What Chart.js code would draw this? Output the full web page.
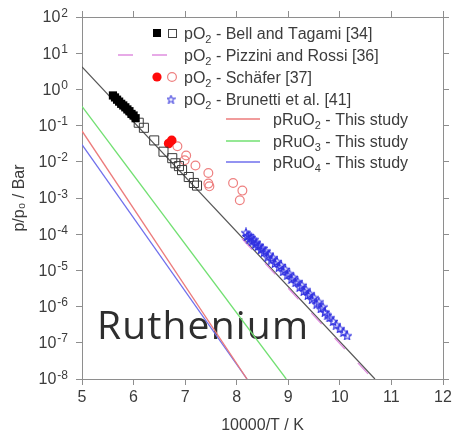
<!DOCTYPE html>
<html>
<head>
<meta charset="utf-8">
<script src="https://cdn.jsdelivr.net/npm/chart.js@4.4.1/dist/chart.umd.min.js"></script>
<style>
  html, body { margin: 0; padding: 0; background: #fff; }
  #wrap { width: 455px; height: 436px; position: relative; }
</style>
</head>
<body>
<div id="wrap"><canvas id="chart"></canvas></div>
<script>
// values (x = 10000/T, y = p/p0 in bar)

const seriesLabels = [
  'pO₂ - Bell and Tagami [34]',
  'pO₂ - Pizzini and Rossi [36]',
  'pO₂ - Schäfer [37]',
  'pO₂ - Brunetti et al. [41]',
  'pRuO₂ - This study',
  'pRuO₃ - This study',
  'pRuO₄ - This study'
];

const yTicks = [1e-8, 1e-7, 1e-6, 1e-5, 1e-4, 1e-3, 1e-2, 1e-1, 1e0, 1e1, 1e2];
const xTicks = [5, 6, 7, 8, 9, 10, 11, 12];

// Bell and Tagami, filled squares
const bellFillX = [5.60, 5.64, 5.68, 5.72, 5.76, 5.80, 5.84, 5.88, 5.92, 5.96, 6.00, 6.04];
const bellFillY = [0.68, 0.60, 0.52, 0.46, 0.40, 0.36, 0.32, 0.28, 0.25, 0.21, 0.19, 0.16];
// Bell and Tagami, open squares
const bellOpenX = [6.10, 6.20, 6.40, 6.58, 6.75, 6.81, 6.88, 6.94, 7.07, 7.17, 7.23];
const bellOpenY = [0.12, 8.7e-2, 3.9e-2, 1.9e-2, 1.26e-2, 9.1e-3, 7.6e-3, 5.9e-3, 3.8e-3, 2.6e-3, 2.2e-3];

// Schafer, filled and open circles
const schaferFillX = [6.68, 6.74];
const schaferFillY = [3.2e-2, 3.9e-2];
const schaferOpenX = [6.85, 7.02, 6.99, 7.20, 7.45, 7.45, 7.47, 7.93, 8.11, 8.06];
const schaferOpenY = [2.7e-2, 1.5e-2, 1.1e-2, 7.9e-3, 4.9e-3, 2.5e-3, 2.1e-3, 2.6e-3, 1.6e-3, 8.7e-4];

// Brunetti et al., stars
const brunettiX = [8.18, 8.20, 8.23, 8.25, 8.28, 8.30, 8.33, 8.36, 8.38, 8.41, 8.44, 8.47, 8.50,
  8.53, 8.56, 8.60, 8.63, 8.67, 8.70, 8.74, 8.78, 8.82, 8.86, 8.90, 8.94, 8.98, 9.02, 9.06,
  9.10, 9.14, 9.18, 9.22, 9.26, 9.30, 9.34, 9.38, 9.42, 9.46, 9.50, 9.55, 9.59, 9.63, 9.67,
  9.71, 9.76, 9.80, 9.87, 9.93, 10.00, 10.07, 10.14];
const brunettiY = [1.12e-4, 8.9e-5, 9.5e-5, 7.6e-5, 8.3e-5, 6.3e-5, 7.2e-5, 5.4e-5, 6.0e-5, 4.7e-5,
  5.0e-5, 3.8e-5, 4.2e-5, 3.2e-5, 3.5e-5, 2.4e-5, 2.8e-5, 2.0e-5, 2.3e-5, 1.6e-5, 1.8e-5,
  1.26e-5, 1.41e-5, 9.5e-6, 1.10e-5, 7.6e-6, 8.3e-6, 5.8e-6, 6.6e-6, 4.7e-6, 5.0e-6, 3.5e-6,
  4.0e-6, 2.7e-6, 3.0e-6, 2.1e-6, 2.3e-6, 1.6e-6, 1.8e-6, 1.2e-6, 1.38e-6, 8.9e-7, 1.0e-6,
  7.2e-7, 6.0e-7, 5.0e-7, 4.0e-7, 3.2e-7, 2.5e-7, 2.0e-7, 1.6e-7];

// lines
const pizziniX = [8.10, 10.64];
const pizziniY = [7.6e-5, 1e-8];
const fitO2X = [5, 10.68];
const fitO2Y = [4.2, 1e-8];
const ruo2X = [5, 8.20];
const ruo2Y = [7.1e-2, 1e-8];
const ruo3X = [5, 8.96];
const ruo3Y = [0.34, 1e-8];
const ruo4X = [5, 8.20];
const ruo4Y = [3.0e-2, 1e-8];

const pts = (xs, ys) => xs.map((x, i) => ({ x: x, y: ys[i] }));

const FONT = "'Liberation Sans', Arial, sans-serif";
const TXT = '#3c3c3c';
const AXIS = '#8e8e8e';
const BLUE_STAR = '#2f2fe0';

function starImage(size, color) {
  const c = document.createElement('canvas');
  c.width = c.height = size;
  const g = c.getContext('2d');
  g.strokeStyle = color;
  g.lineWidth = 1.1;
  g.beginPath();
  for (let i = 0; i < 10; i++) {
    const r = i % 2 ? size * 0.2 : size * 0.46;
    const a = -Math.PI / 2 + i * Math.PI / 5;
    const px = size / 2 + r * Math.cos(a), py = size / 2 + 0.6 + r * Math.sin(a);
    if (i === 0) g.moveTo(px, py); else g.lineTo(px, py);
  }
  g.closePath();
  g.stroke();
  return c;
}
const star = starImage(10, BLUE_STAR);
const legendStar = starImage(9, '#4a4ae0');

// text with subscript digits drawn smaller and lowered
const subMap = { '₀': '0', '₂': '2', '₃': '3', '₄': '4' };
function drawSubText(ctx, text, x, y) {
  let cx = x;
  for (const ch of text) {
    if (subMap[ch]) {
      ctx.font = '11px ' + FONT;
      ctx.fillText(subMap[ch], cx, y + 4);
      cx += ctx.measureText(subMap[ch]).width;
    } else {
      ctx.font = '16px ' + FONT;
      ctx.fillText(ch, cx, y);
      cx += ctx.measureText(ch).width;
    }
  }
}

// decade labels "10" with a raised exponent, placed with the y scale
const yLabelPlugin = {
  id: 'decadeLabels',
  afterDraw(chart) {
    const ctx = chart.ctx, sc = chart.scales.y;
    ctx.save();
    ctx.fillStyle = TXT;
    ctx.textAlign = 'left';
    yTicks.forEach(v => {
      const py = sc.getPixelForValue(v);
      const exp = String(Math.round(Math.log10(v)));
      ctx.font = '12px ' + FONT;
      const we = ctx.measureText(exp).width;
      ctx.font = '16px ' + FONT;
      const wb = ctx.measureText('10').width;
      const right = sc.right - 14;
      const x0 = right - we - wb - 1;
      ctx.textBaseline = 'middle';
      ctx.fillText('10', x0, py + 1);
      ctx.font = '12px ' + FONT;
      ctx.textBaseline = 'alphabetic';
      ctx.fillText(exp, x0 + wb + 1, py - 0.5);
    });
    ctx.restore();
  }
};

const legendPlugin = {
  id: 'refLegend',
  afterDraw(chart) {
    const ctx = chart.ctx;
    ctx.save();
    ctx.fillStyle = TXT;
    ctx.textBaseline = 'alphabetic';
    ctx.textAlign = 'left';
    const rowY = [33, 55, 77, 99, 119, 141, 162];
    seriesLabels.forEach((lab, i) => {
      drawSubText(ctx, lab, i < 4 ? 184 : 273, rowY[i] + 6);
    });
    // symbols
    ctx.fillStyle = '#000';
    ctx.fillRect(153, 29, 8, 8);
    ctx.strokeStyle = '#444'; ctx.lineWidth = 1;
    ctx.strokeRect(168.5, 29.5, 8, 8);
    ctx.strokeStyle = '#e08ee0'; ctx.lineWidth = 1.3;
    ctx.beginPath(); ctx.moveTo(118, 55); ctx.lineTo(133, 55); ctx.moveTo(152, 55); ctx.lineTo(167, 55); ctx.stroke();
    ctx.fillStyle = '#ff0a0a';
    ctx.beginPath(); ctx.arc(157, 77, 4.6, 0, Math.PI * 2); ctx.fill();
    ctx.strokeStyle = '#ee8080'; ctx.lineWidth = 1.2;
    ctx.beginPath(); ctx.arc(172, 77, 4.4, 0, Math.PI * 2); ctx.stroke();
    ctx.drawImage(legendStar, 166.5, 94.5);
    [['#ec7b7b', 119], ['#72e072', 141], ['#6f6fec', 162]].forEach(([c, y]) => {
      ctx.strokeStyle = c; ctx.lineWidth = 1.3;
      ctx.beginPath(); ctx.moveTo(226, y); ctx.lineTo(260, y); ctx.stroke();
    });
    ctx.restore();
  }
};

const namePlugin = {
  id: 'elementName',
  beforeDatasetsDraw(chart) {
    const ctx = chart.ctx;
    ctx.save();
    ctx.font = "39px 'Open Sans', sans-serif";
    ctx.letterSpacing = '1.2px';
    ctx.fillStyle = '#2e2e2e';
    ctx.textBaseline = 'alphabetic';
    ctx.fillText('Ruthenium', 97, 339);
    ctx.restore();
  }
};

const decadeTicks = scale => { scale.ticks = yTicks.map(v => ({ value: v })); };
const intTicks = scale => { scale.ticks = xTicks.map(v => ({ value: v })); };

new Chart(document.getElementById('chart'), {
  type: 'scatter',
  data: {
    datasets: [
      { data: pts(bellFillX, bellFillY), pointStyle: 'rect', pointRadius: 5.8, backgroundColor: '#000', borderColor: '#000', borderWidth: 0 },
      { data: pts(bellOpenX, bellOpenY), pointStyle: 'rect', pointRadius: 6.4, backgroundColor: 'rgba(0,0,0,0)', borderColor: '#3a3a3a', borderWidth: 1 },
      { data: pts(schaferFillX, schaferFillY), pointStyle: 'circle', pointRadius: 4.8, backgroundColor: '#ff0a0a', borderColor: '#ff0a0a', borderWidth: 0 },
      { data: pts(schaferOpenX, schaferOpenY), pointStyle: 'circle', pointRadius: 4.4, backgroundColor: 'rgba(0,0,0,0)', borderColor: '#ee8080', borderWidth: 1.2 },
      { data: pts(brunettiX, brunettiY), pointStyle: star, pointRadius: 5 },
      { data: pts(pizziniX, pizziniY), showLine: true, pointRadius: 0, borderColor: '#e08ee0', borderWidth: 1.3, borderDash: [15, 19] },
      { data: pts(fitO2X, fitO2Y), showLine: true, pointRadius: 0, borderColor: '#555', borderWidth: 1.2 },
      { data: pts(ruo2X, ruo2Y), showLine: true, pointRadius: 0, borderColor: '#ec7b7b', borderWidth: 1.3 },
      { data: pts(ruo3X, ruo3Y), showLine: true, pointRadius: 0, borderColor: '#72e072', borderWidth: 1.3 },
      { data: pts(ruo4X, ruo4Y), showLine: true, pointRadius: 0, borderColor: '#6f6fec', borderWidth: 1.3 }
    ]
  },
  options: {
    responsive: true,
    maintainAspectRatio: false,
    animation: false,
    layout: { padding: 0 },
    plugins: { legend: { display: false }, tooltip: { enabled: false } },
    scales: {
      x: {
        type: 'linear', position: 'bottom', min: 5, max: 12,
        afterBuildTicks: intTicks,
        afterFit: s => { s.height = 57; },
        grid: { drawOnChartArea: false, drawTicks: true, tickLength: 6, color: AXIS },
        border: { display: true, color: AXIS, width: 1 },
        ticks: { color: TXT, font: { family: FONT, size: 16 }, padding: 3, maxRotation: 0 },
        title: { display: true, text: '10000/T / K', color: TXT, font: { family: FONT, size: 16 }, padding: { top: 0, bottom: 1 } }
      },
      xTop: {
        type: 'linear', position: 'top', min: 5, max: 12,
        afterBuildTicks: intTicks,
        afterFit: s => { s.height = 17; },
        grid: { drawOnChartArea: false, drawTicks: true, tickLength: 6, color: AXIS },
        border: { display: true, color: AXIS, width: 1 },
        ticks: { display: false }
      },
      y: {
        type: 'logarithmic', position: 'left', min: 1e-8, max: 1e2,
        afterBuildTicks: decadeTicks,
        afterFit: s => { s.width = 82; },
        grid: { drawOnChartArea: false, drawTicks: true, tickLength: 6, color: AXIS },
        border: { display: true, color: AXIS, width: 1 },
        ticks: { display: false },
        title: { display: true, text: 'p/p₀ / Bar', color: TXT, font: { family: FONT, size: 16 }, padding: { top: 10, bottom: 0 } }
      },
      yRight: {
        type: 'logarithmic', position: 'right', min: 1e-8, max: 1e2,
        afterBuildTicks: decadeTicks,
        afterFit: s => { s.width = 12; },
        grid: { drawOnChartArea: false, drawTicks: true, tickLength: 6, color: AXIS },
        border: { display: true, color: AXIS, width: 1 },
        ticks: { display: false }
      }
    }
  },
  plugins: [namePlugin, legendPlugin, yLabelPlugin]
});
</script>
</body>
</html>
